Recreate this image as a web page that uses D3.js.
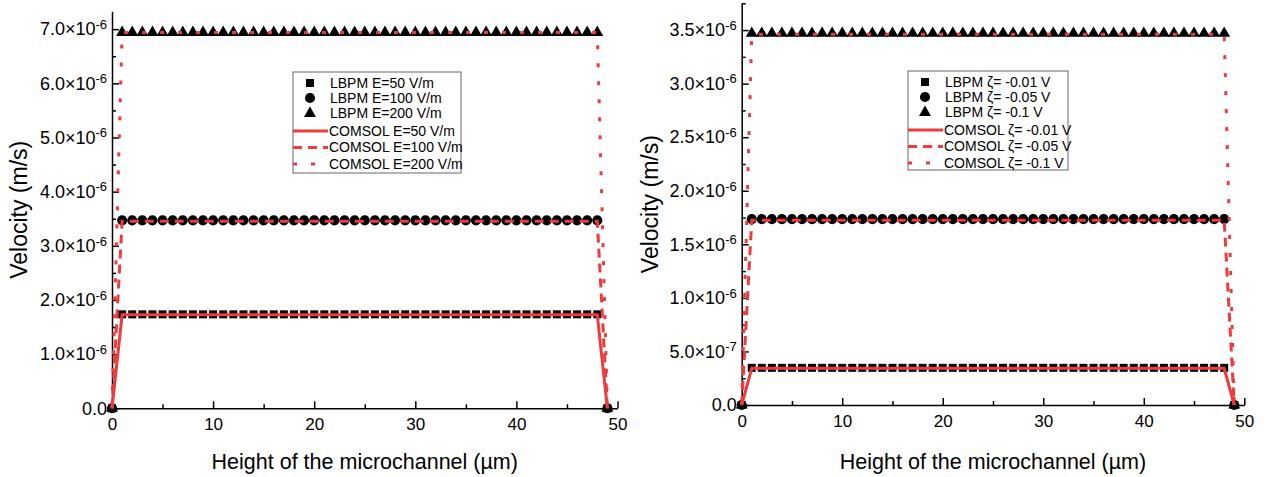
<!DOCTYPE html>
<html>
<head>
<meta charset="utf-8">
<script src="https://cdn.jsdelivr.net/npm/d3@7"></script>
<style>
body { margin: 0; background: #fff; }
svg text { font-family: "Liberation Sans", Arial, sans-serif; fill: #000; }
</style>
</head>
<body>
<script>
/* Data (velocities in m/s, heights in um) */
var latticeNodes = [0, 1, 2, 3, 4, 5, 6, 7, 8, 9, 10, 11, 12, 13, 14, 15, 16, 17, 18, 19, 20, 21, 22, 23, 24,
	25, 26, 27, 28, 29, 30, 31, 32, 33, 34, 35, 36, 37, 38, 39, 40, 41, 42, 43, 44, 45, 46, 47, 48, 49];

var lbpmE50 = [0, 1.735, 1.735, 1.735, 1.735, 1.735, 1.735, 1.735, 1.735, 1.735, 1.735, 1.735, 1.735, 1.735, 1.735,
	1.735, 1.735, 1.735, 1.735, 1.735, 1.735, 1.735, 1.735, 1.735, 1.735, 1.735, 1.735, 1.735, 1.735, 1.735,
	1.735, 1.735, 1.735, 1.735, 1.735, 1.735, 1.735, 1.735, 1.735, 1.735, 1.735, 1.735, 1.735, 1.735, 1.735,
	1.735, 1.735, 1.735, 1.735, 0];
var lbpmE100 = [0, 3.47, 3.47, 3.47, 3.47, 3.47, 3.47, 3.47, 3.47, 3.47, 3.47, 3.47, 3.47, 3.47, 3.47,
	3.47, 3.47, 3.47, 3.47, 3.47, 3.47, 3.47, 3.47, 3.47, 3.47, 3.47, 3.47, 3.47, 3.47, 3.47,
	3.47, 3.47, 3.47, 3.47, 3.47, 3.47, 3.47, 3.47, 3.47, 3.47, 3.47, 3.47, 3.47, 3.47, 3.47,
	3.47, 3.47, 3.47, 3.47, 0];
var lbpmE200 = [0, 6.94, 6.94, 6.94, 6.94, 6.94, 6.94, 6.94, 6.94, 6.94, 6.94, 6.94, 6.94, 6.94, 6.94,
	6.94, 6.94, 6.94, 6.94, 6.94, 6.94, 6.94, 6.94, 6.94, 6.94, 6.94, 6.94, 6.94, 6.94, 6.94,
	6.94, 6.94, 6.94, 6.94, 6.94, 6.94, 6.94, 6.94, 6.94, 6.94, 6.94, 6.94, 6.94, 6.94, 6.94,
	6.94, 6.94, 6.94, 6.94, 0];

var lbpmZ001 = [0, 0.347, 0.347, 0.347, 0.347, 0.347, 0.347, 0.347, 0.347, 0.347, 0.347, 0.347, 0.347, 0.347, 0.347,
	0.347, 0.347, 0.347, 0.347, 0.347, 0.347, 0.347, 0.347, 0.347, 0.347, 0.347, 0.347, 0.347, 0.347, 0.347,
	0.347, 0.347, 0.347, 0.347, 0.347, 0.347, 0.347, 0.347, 0.347, 0.347, 0.347, 0.347, 0.347, 0.347, 0.347,
	0.347, 0.347, 0.347, 0.347, 0];
var lbpmZ005 = lbpmE50;
var lbpmZ01 = lbpmE100;

var comsolNodes = [0, 1, 48, 49];
var comsolE50 = [0, 1.725, 1.725, 0];
var comsolE100 = [0, 3.455, 3.455, 0];
var comsolE200 = [0, 6.94, 6.94, 0];
var comsolZ001 = [0, 0.342, 0.342, 0];
var comsolZ005 = [0, 1.725, 1.725, 0];
var comsolZ01 = [0, 3.46, 3.46, 0];

var leftLabels = ["LBPM E=50 V/m", "LBPM E=100 V/m", "LBPM E=200 V/m",
	"COMSOL E=50 V/m", "COMSOL E=100 V/m", "COMSOL E=200 V/m"];
var rightLabels = ["LBPM \u03B6= -0.01 V", "LBPM \u03B6= -0.05 V", "LBPM  \u03B6= -0.1 V",
	"COMSOL \u03B6= -0.01 V", "COMSOL \u03B6= -0.05 V", "COMSOL \u03B6= -0.1 V"];

var xMajor = [0, 10, 20, 30, 40, 50],
	xMinor = [5, 15, 25, 35, 45],
	leftYMajor = [0, 1, 2, 3, 4, 5, 6, 7],
	leftYMinor = [0.5, 1.5, 2.5, 3.5, 4.5, 5.5, 6.5],
	rightYMajor = [0, 0.5, 1, 1.5, 2, 2.5, 3, 3.5],
	rightYMinor = [0.25, 0.75, 1.25, 1.75, 2.25, 2.75, 3.25, 3.75];

/* Display setup */
var red = "#ef3b3b",
	lineStyles = ["none", "9,6", "4,14"],
	symbols = [d3.symbolSquare, d3.symbolCircle, d3.symbolTriangle],
	symbolSizes = [64, 80, 62],
	svg = d3.select("body").append("svg")
		.attr("width", 1269)
		.attr("height", 477);

var panels = [
	{
		x: d3.scaleLinear().domain([0, 50]).range([112, 617.5]),
		y: d3.scaleLinear().domain([0, 7.33]).range([408.3, 11.3]),
		yMajor: leftYMajor, yMinor: leftYMinor,
		lbpm: [lbpmE50, lbpmE100, lbpmE200],
		comsol: [comsolE50, comsolE100, comsolE200],
		labels: leftLabels,
		legend: {x: 293, y: 72, w: 168, h: 101, textX: 330},
		yTitleX: 19
	},
	{
		x: d3.scaleLinear().domain([0, 50]).range([741.7, 1244.3]),
		y: d3.scaleLinear().domain([0, 3.75]).range([405, 3.3]),
		yMajor: rightYMajor, yMinor: rightYMinor,
		lbpm: [lbpmZ001, lbpmZ005, lbpmZ01],
		comsol: [comsolZ001, comsolZ005, comsolZ01],
		labels: rightLabels,
		legend: {x: 908, y: 71, w: 160, h: 99, textX: 945},
		yTitleX: 650
	}
];

// "7.0x10^-6" style labels
function sciLabel(sel, v) {
	sel.text(null);
	if (v === 0) { sel.text("0.0"); return; }
	var val = v * 1e-6,
		e = Math.floor(Math.log10(val) + 1e-9),
		m = Math.round(val / Math.pow(10, e) * 10) / 10;
	sel.append("tspan").text(m.toFixed(1) + "\u00D710");
	sel.append("tspan").attr("dy", "-0.5em").style("font-size", "13px").text(e);
}

panels.forEach(function(p) {
	var g = svg.append("g");
	var x0 = p.x.range()[0], y0 = p.y.range()[0];

	// minor ticks
	g.append("g").attr("transform", "translate(0," + y0 + ")")
		.call(d3.axisBottom(p.x).tickValues(xMinor).tickSize(-4).tickFormat(""))
		.call(function(a) { a.select(".domain").remove(); });
	g.append("g").attr("transform", "translate(" + x0 + ",0)")
		.call(d3.axisLeft(p.y).tickValues(p.yMinor).tickSize(-4).tickFormat(""))
		.call(function(a) { a.select(".domain").remove(); });

	var xAxis = g.append("g").attr("transform", "translate(0," + y0 + ")")
		.call(d3.axisBottom(p.x).tickValues(xMajor).tickSize(-7).tickSizeOuter(0).tickPadding(10));
	xAxis.selectAll("text").style("font-size", "17px");

	var yAxis = g.append("g").attr("transform", "translate(" + x0 + ",0)")
		.call(d3.axisLeft(p.y).tickValues(p.yMajor).tickSize(-7).tickSizeOuter(0).tickPadding(5));
	yAxis.selectAll("text").style("font-size", "18px")
		.each(function(d) { sciLabel(d3.select(this), d); });

	g.selectAll(".domain").attr("stroke-width", 1.5);
	g.selectAll(".tick line").attr("stroke-width", 1.5);

	// LBPM markers
	p.lbpm.forEach(function(series, i) {
		g.append("g").selectAll("path")
			.data(series)
			.enter().append("path")
				.attr("transform", function(d, j) { return "translate(" + p.x(latticeNodes[j]) + "," + p.y(d) + ")"; })
				.attr("d", d3.symbol().type(symbols[i]).size(symbolSizes[i]))
				.style("fill", "#000");
	});

	// COMSOL lines
	var line = d3.line()
		.x(function(d, j) { return p.x(comsolNodes[j]); })
		.y(function(d) { return p.y(d); });
	p.comsol.forEach(function(series, i) {
		g.append("path")
			.datum(series)
			.attr("d", line)
			.style("fill", "none")
			.style("stroke", red)
			.style("stroke-width", 3)
			.style("stroke-dasharray", lineStyles[i]);
	});

	// axis titles
	var xMid = (p.x.range()[0] + p.x.range()[1]) / 2,
		yMid = (p.y.range()[0] + p.y.range()[1]) / 2;
	g.append("text")
		.attr("x", xMid).attr("y", 469)
		.attr("text-anchor", "middle")
		.style("font-size", "21.5px")
		.text("Height of the microchannel (\u00B5m)");
	g.append("text")
		.attr("transform", "translate(" + p.yTitleX + "," + yMid + ") rotate(-90)")
		.attr("dy", "0.35em")
		.attr("text-anchor", "middle")
		.style("font-size", "23px")
		.text("Velocity (m/s)");

	// legend
	var L = p.legend,
		legend = g.append("g").attr("transform", "translate(" + L.x + "," + L.y + ")"),
		rowY = [11, 26, 41.5, 59, 75.5, 92];
	legend.append("rect")
		.attr("width", L.w).attr("height", L.h)
		.style("fill", "#fff").style("stroke", "#666").style("stroke-width", 1);
	[0, 1, 2].forEach(function(i) {
		legend.append("path")
			.attr("transform", "translate(" + (L.textX - L.x - 20) + "," + rowY[i] + ")")
			.attr("d", d3.symbol().type(symbols[i]).size(symbolSizes[i]))
			.style("fill", "#000");
		legend.append("path")
			.attr("d", "M0," + rowY[i + 3] + "H" + (L.textX - L.x - 2))
			.style("stroke", red).style("stroke-width", 3)
			.style("stroke-dasharray", lineStyles[i]);
	});
	legend.selectAll("text.lab")
		.data(p.labels)
		.enter().append("text")
			.attr("class", "lab")
			.attr("x", function(d, i) { return L.textX - L.x - (i > 2 ? 1 : 0); })
			.attr("y", function(d, i) { return rowY[i]; })
			.attr("dy", "0.35em")
			.style("font-size", "14px")
			.text(function(d) { return d; });
});
</script>
</body>
</html>
